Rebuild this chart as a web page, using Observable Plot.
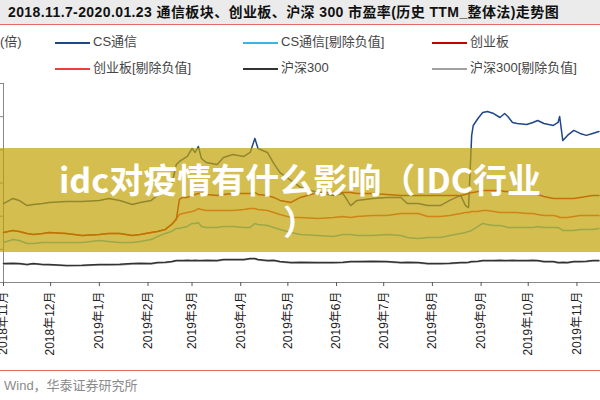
<!DOCTYPE html>
<html><head><meta charset="utf-8">
<script src="https://cdn.jsdelivr.net/npm/d3@7"></script>
<script src="https://cdn.jsdelivr.net/npm/@observablehq/plot@0.6"></script>
<style>
body{margin:0;width:600px;height:400px;overflow:hidden;position:relative;background:#fff;font-family:"Liberation Sans",Arial,"Noto Sans CJK SC",sans-serif;}
#title{position:absolute;left:0;top:0;width:600px;height:25px;background:#ebebeb;border-bottom:1px solid #e46a6a;box-sizing:border-box;font-weight:bold;font-size:14px;line-height:24px;padding-left:8px;white-space:nowrap;color:#111;letter-spacing:0.4px;}
#legend{position:absolute;left:0;top:25px;width:600px;height:55px;}
.sw{position:absolute;width:35px;height:2px;}
.lt{position:absolute;font-size:13px;line-height:16px;color:#444;white-space:nowrap;}
#unit{position:absolute;left:0;top:34px;font-size:13px;line-height:16px;color:#444;}
#chart{position:absolute;left:0;top:80px;}
#footer{position:absolute;left:0;top:370px;width:600px;height:30px;border-top:1px solid #e46a6a;box-sizing:border-box;padding-left:4px;font-size:13px;line-height:30px;color:#8a8a8a;}
#overlay{position:absolute;left:0;top:148px;width:600px;height:104px;background:rgba(194,162,5,0.7);color:#fff;font-family:"Noto Sans CJK SC",sans-serif;font-weight:bold;font-size:34px;line-height:42px;text-align:center;display:flex;flex-direction:column;justify-content:center;}
</style></head>
<body>
<div id="title">2018.11.7-2020.01.23 通信板块、创业板、沪深 300 市盈率(历史 TTM_整体法)走势图</div>
<div id="legend"></div>
<div id="unit">(倍)</div>
<div id="chart"></div>
<div id="overlay"><div>idc对疫情有什么影响（IDC行业</div><div>）</div></div>
<div id="footer">Wind，华泰证券研究所</div>
<script>
const dates = [
"2018-11-01","2018-11-07","2018-11-11","2018-11-16","2018-11-20","2018-11-26","2018-11-30","2018-12-11","2018-12-21","2019-01-01",
"2019-01-07","2019-01-14","2019-01-22","2019-01-27","2019-02-03","2019-02-07","2019-02-12","2019-02-16","2019-02-19","2019-02-21",
"2019-02-23","2019-02-26","2019-03-01","2019-03-03","2019-03-05","2019-03-07","2019-03-10","2019-03-17","2019-03-21","2019-03-27",
"2019-04-03","2019-04-07","2019-04-10","2019-04-12","2019-04-18","2019-04-22","2019-04-26","2019-05-03","2019-05-09","2019-05-20",
"2019-05-30","2019-06-05","2019-06-10","2019-06-14","2019-06-24","2019-07-03","2019-07-12","2019-07-16","2019-07-23","2019-07-29",
"2019-08-06","2019-08-12","2019-08-19","2019-08-22","2019-08-24","2019-08-26","2019-08-27","2019-08-30","2019-09-02","2019-09-05",
"2019-09-09","2019-09-13","2019-09-16","2019-09-18","2019-09-21","2019-09-24","2019-09-30","2019-10-04","2019-10-07","2019-10-11",
"2019-10-17","2019-10-20","2019-10-21","2019-10-23","2019-10-26","2019-10-30","2019-11-03","2019-11-07","2019-11-11","2019-11-15"];

const csTelecom = [
47.6,50.7,49.5,46.4,47.0,47.6,48.3,48.9,48.9,49.5,
50.7,49.5,47.0,48.3,49.5,52.5,56.1,58.5,71.2,73.0,
74.2,76.0,80.8,78.4,82.0,74.8,72.4,71.2,75.4,77.2,
76.0,78.4,86.9,80.8,78.4,71.8,66.3,61.5,57.3,54.3,
52.5,53.7,46.4,49.5,50.7,51.3,51.3,47.6,47.6,46.4,
46.4,49.5,52.5,46.4,45.2,88.7,94.7,98.9,102.5,103.1,
101.9,99.5,101.9,100.1,96.5,95.9,95.3,96.5,97.7,95.9,
94.7,96.5,100.1,85.6,88.7,91.7,89.9,88.7,89.9,91.1];

const csTelecomExNeg = [
24.1,25.9,25.3,23.5,23.5,24.1,24.1,24.1,24.1,25.3,
24.7,24.1,24.1,24.7,25.9,27.7,29.6,30.8,32.6,32.6,
33.2,33.8,35.6,35.6,36.2,33.8,33.2,33.2,33.8,33.8,
33.2,33.2,35.6,35.0,34.4,33.2,32.0,30.2,29.0,28.3,
27.7,29.0,29.0,28.3,28.3,29.0,28.3,27.1,26.5,27.1,
27.1,28.3,29.6,30.2,30.8,31.4,32.0,33.8,35.6,35.0,
34.4,34.4,33.8,33.2,33.2,33.2,33.2,33.2,33.8,33.2,
33.2,33.2,32.6,31.4,31.4,31.4,32.0,32.0,32.0,32.6];

const chinext = [
30.2,31.4,30.8,29.6,29.0,29.6,30.2,29.6,28.3,29.0,
29.6,29.6,28.3,29.0,30.2,30.8,32.0,35.0,38.0,50.1,
51.3,51.3,52.5,53.1,53.7,53.7,53.1,52.5,53.1,53.7,
53.7,53.7,54.3,53.1,52.5,51.3,49.5,48.3,51.3,54.3,
54.3,54.3,54.3,53.7,53.7,53.1,52.5,52.5,52.5,52.5,
52.5,52.5,52.5,53.1,53.7,54.3,54.3,54.9,55.5,55.5,
55.5,55.5,54.9,54.9,54.9,54.3,54.3,54.3,53.1,51.9,
50.7,50.7,50.7,50.7,50.7,50.7,51.3,51.9,52.5,52.5];

const chinextExNeg = [
30.2,31.4,30.8,29.6,29.0,29.6,30.2,29.6,28.3,29.0,
29.6,29.6,28.3,29.0,30.2,30.8,32.0,35.0,38.6,41.0,
41.6,42.2,42.8,43.4,44.6,44.0,43.4,43.4,43.4,43.4,
44.0,44.6,44.6,44.0,43.4,42.2,41.0,39.2,39.2,38.6,
39.2,39.8,39.2,39.8,40.4,40.4,41.6,41.6,41.6,39.8,
39.8,40.4,41.6,42.2,42.2,42.8,42.8,42.8,43.4,43.4,
42.8,42.2,42.2,42.2,42.2,42.2,41.6,41.6,41.0,40.4,
40.4,39.8,39.2,39.2,39.2,39.8,40.4,40.4,40.4,40.4];

const hs300 = [
11.5,11.6,11.5,10.9,11.5,10.9,10.9,10.3,10.4,10.9,
10.9,11.0,11.5,11.6,11.5,12.1,12.2,12.7,13.3,13.3,
13.3,13.4,13.3,13.4,13.3,13.3,13.4,13.3,13.9,13.9,
13.9,14.5,14.5,13.9,13.3,13.4,12.7,12.1,12.2,12.1,
12.1,12.2,12.7,12.7,12.8,12.7,12.1,12.2,12.1,11.5,
11.5,11.6,12.1,12.1,12.2,12.7,12.7,12.8,13.3,13.3,
13.3,13.4,13.3,13.3,13.4,13.3,13.3,13.4,13.3,12.7,
12.7,12.1,12.1,12.2,12.1,12.7,12.7,12.8,13.3,13.3];

const hs300ExNeg = [
11.2,11.3,11.2,10.7,11.2,10.7,10.6,10.1,10.1,10.6,
10.7,10.6,11.2,11.3,11.2,11.8,11.9,12.4,13.0,13.0,
13.0,13.1,13.0,13.1,13.0,13.0,13.1,13.0,13.6,13.6,
13.6,14.2,14.2,13.6,13.0,13.1,12.4,11.8,11.9,11.8,
11.8,11.9,12.4,12.4,12.5,12.4,11.8,11.9,11.8,11.2,
11.2,11.3,11.8,11.8,11.9,12.4,12.4,12.5,13.0,13.0,
13.0,13.1,13.0,13.0,13.1,13.0,13.0,13.1,13.0,12.4,
12.4,11.8,11.8,11.9,11.8,12.4,12.4,12.5,13.0,13.0];

const seriesNames = ["CS通信","CS通信[剔除负值]","创业板","创业板[剔除负值]","沪深300","沪深300[剔除负值]"];
const seriesColors = ["#1f4788","#3db4e6","#c00000","#f03c3c","#333333","#a0a0a0"];
const seriesValues = [csTelecom, csTelecomExNeg, chinext, chinextExNeg, hs300, hs300ExNeg];
const monthTicks = ["2018-11-01","2018-12-01","2019-01-01","2019-02-01","2019-03-01","2019-04-01","2019-05-01","2019-06-01","2019-07-01","2019-08-01","2019-09-01","2019-10-01","2019-11-01"];
const yTicks = [0,20,40,60,80,100,120];
const xDomain = ["2018-11-01","2019-11-16"];

// legend
const legend = document.getElementById("legend");
const colX = [55,243,432], rowY = [17,43];
seriesNames.forEach((name,i)=>{
  const cx = colX[i%3], ry = rowY[Math.floor(i/3)];
  const sw = document.createElement("div");
  sw.className = "sw"; sw.style.left = cx+"px"; sw.style.top = ry+"px"; sw.style.background = seriesColors[i];
  const t = document.createElement("div");
  t.className = "lt"; t.style.left = (cx+38)+"px"; t.style.top = (ry-8)+"px"; t.textContent = name;
  legend.appendChild(sw); legend.appendChild(t);
});

const series = seriesValues.map((vals,i)=>vals.map((v,j)=>({date:new Date(dates[j]), value:v, series:seriesNames[i]})));
const fmt = d => `${d.getUTCFullYear()}年${d.getUTCMonth()+1}月`;

const chart = Plot.plot({
  width:600, height:290,
  marginTop:3, marginBottom:88, marginLeft:3, marginRight:0,
  style:{fontFamily:'"Liberation Sans",Arial,"Noto Sans CJK SC",sans-serif', fontSize:"12px", color:"#222", background:"transparent"},
  x:{type:"utc", domain:xDomain.map(d=>new Date(d))},
  y:{domain:[0,120]},
  color:{domain:seriesNames, range:seriesColors},
  marks:[
    Plot.ruleY([0],{stroke:"#888"}),
    Plot.ruleX([new Date(xDomain[0])],{y1:0,y2:120,stroke:"#888"}),
    Plot.axisY({ticks:yTicks, tickSize:3, tickFormat:()=>"", stroke:"#888", label:null}),
    Plot.axisX({ticks:monthTicks.map(d=>new Date(d)), tickFormat:fmt, tickRotate:-90, tickSize:4, tickPadding:5, stroke:"#555", label:null}),
    ...series.slice().reverse().map(s=>Plot.line(s,{x:"date",y:"value",stroke:"series",strokeWidth:1.5})),
  ]
});
document.getElementById("chart").appendChild(chart);
</script>
</body></html>
